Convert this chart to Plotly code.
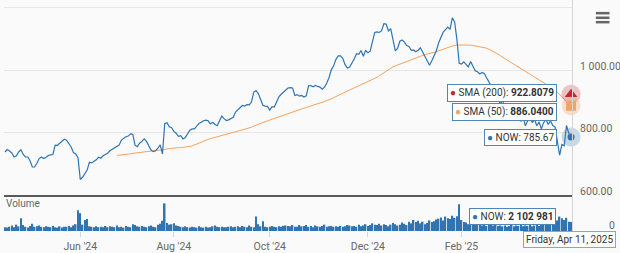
import pandas as pd
import plotly.graph_objects as go

# ---------------- data ----------------
price = [
    738, 746, 741, 735, 722, 726, 738, 745, 730, 722, 722, 710, 690, 690, 702, 717, 722, 717, 721,
    727, 729, 730, 760, 759, 766, 773, 779, 776, 764, 754, 736, 732, 720, 650, 657, 667, 680,
    705, 703, 708, 713, 721, 718, 726, 729, 734, 742, 747, 752, 756, 760, 776, 783, 787, 789,
    796, 795, 760, 755, 766, 772, 780, 772, 757, 744, 739, 742, 750, 761, 732, 829, 832, 819,
    816, 804, 798, 788, 790, 780, 784, 796, 808, 812, 812, 821, 829, 833, 838, 840, 838, 828,
    833, 826, 822, 838, 853, 845, 839, 841, 845, 849, 866, 873, 880, 887, 885, 890, 889, 898,
    930, 935, 925, 905, 888, 885, 884, 872, 883, 882, 900, 915, 923, 930, 937, 943, 944, 943,
    919, 922, 917, 919, 914, 918, 950, 951, 947, 951, 948, 946, 939, 946, 959, 977, 1002, 1014,
    1035, 1046, 1046, 1038, 1018, 1007, 1010, 1022, 1036, 1053, 1051, 1063, 1045, 1063, 1056, 1061, 1095, 1121,
    1123, 1121, 1127, 1149, 1148, 1126, 1133, 1100, 1062, 1070, 1093, 1097, 1090, 1079, 1076, 1064, 1065, 1059,
    1064, 1072, 1057, 1043, 1028, 1016, 1030, 1045, 1062, 1088, 1108, 1122, 1130, 1138, 1131, 1168, 1155, 1098, 1022, 1020, 1027,
    1017, 1011, 1028, 1010, 998, 995, 988, 993, 990, 976, 965, 950, 938, 925, 912,
    892, 903, 884, 866, 868, 858, 848, 842, 858, 836, 850, 822, 838, 852, 832, 842, 822, 834,
    812, 832, 843, 826, 838, 823, 818, 771, 728, 762, 758, 823, 798, 785.67,
]

volume_millions = [
    0.9, 0.8, 1.0, 1.3, 0.9, 1.5, 1.1, 3.0, 1.4, 1.0, 0.8, 1.2, 1.7, 1.0, 1.1, 1.3, 1.0, 0.9, 1.1,
    1.0, 0.9, 1.2, 0.9, 0.8, 1.1, 0.8, 1.0, 1.0, 1.2, 0.9, 1.3, 1.6, 4.9, 4.2, 1.5, 2.6, 2.8,
    1.1, 1.0, 0.9, 1.1, 0.9, 1.0, 0.9, 1.2, 0.9, 1.1, 1.0, 0.9, 1.3, 0.9, 1.0, 0.8, 1.2, 1.0,
    0.9, 1.6, 1.4, 1.1, 1.0, 1.2, 1.0, 0.9, 1.1, 1.3, 1.0, 0.9, 1.5, 1.7, 2.4, 6.5, 1.9, 1.5,
    1.6, 1.8, 1.3, 1.2, 1.0, 0.9, 1.1, 0.9, 0.8, 1.0, 0.9, 0.8, 1.1, 0.9, 0.8, 1.0, 0.8, 0.9,
    1.1, 1.3, 1.0, 0.9, 1.0, 0.9, 0.9, 1.0, 1.1, 0.9, 1.0, 1.1, 0.9, 1.2, 1.0, 0.9, 1.3, 1.0,
    0.9, 3.4, 1.6, 1.1, 2.3, 1.0, 0.9, 1.0, 1.2, 1.0, 0.9, 1.1, 1.0, 1.2, 1.3, 1.2, 1.1, 1.4,
    1.0, 1.0, 1.4, 1.1, 1.2, 1.4, 1.0, 1.2, 0.9, 1.3, 1.1, 1.0, 1.2, 1.5, 1.0, 1.1, 1.2, 1.0,
    1.1, 1.0, 1.2, 1.0, 1.1, 1.4, 1.3, 1.1, 1.2, 1.0, 1.5, 1.1, 1.3, 1.6, 1.2, 1.4, 1.8, 1.5,
    1.4, 1.7, 1.3, 1.6, 1.4, 1.1, 1.5, 1.9, 1.6, 1.3, 1.5, 2.0, 1.7, 1.4, 2.2, 1.8, 2.6, 2.1,
    2.4, 1.8, 2.2, 1.6, 1.9, 2.5, 2.1, 2.3, 2.7, 2.9, 3.2, 2.5, 3.4, 3.0, 2.8, 3.6, 3.1, 3.5, 6.3, 2.6, 2.1,
    2.0, 1.6, 1.9, 1.5, 1.7, 1.4, 1.6, 1.3, 1.5, 1.2, 1.4, 1.6, 1.3, 1.5, 1.2,
    1.3, 1.1, 1.3, 1.0, 1.2, 1.4, 1.1, 1.3, 1.2, 1.5, 1.1, 1.3, 1.2, 1.4, 1.1, 1.3, 1.5, 1.2,
    1.4, 1.7, 1.9, 1.6, 2.0, 2.3, 1.8, 2.5, 3.4, 3.0, 2.6, 3.1, 2.2, 2.102981,
]

market_holidays = ["2024-05-27", "2024-06-19", "2024-07-04", "2024-09-02", "2024-11-28",
                   "2024-12-25", "2025-01-01", "2025-01-09", "2025-01-20", "2025-02-17"]

tick_dates = ["2024-06-03", "2024-08-01", "2024-10-01", "2024-12-02", "2025-02-03"]
tick_labels = ["Jun '24", "Aug '24", "Oct '24", "Dec '24", "Feb '25"]

price_ticks = [600, 800, 1000, 1200]
price_tick_labels = ["600.00", "800.00", "1 000.00", ""]

sma200_now = 922.8079
sma50_now = 886.0400
price_now = 785.67
volume_now = 2102981
date_label = "Friday, Apr 11, 2025"

# ---------------- derived ----------------
days = pd.bdate_range("2024-01-02", "2025-04-11")
days = days[~days.isin(pd.to_datetime(market_holidays))]
dates = days[-len(price):]
vdates = days[-len(volume_millions):]
volume = [v * 1e6 for v in volume_millions]
sma50 = pd.Series(price).rolling(50).mean()
last = dates[-1]

BLUE = "#2f74b3"
ORANGE = "#f4a261"
RED = "#c0282d"
FONT = "Roboto"

fig = go.Figure()

fig.add_trace(go.Scatter(x=dates, y=sma50, mode="lines", line=dict(color=ORANGE, width=1),
                         yaxis="y", hoverinfo="skip"))
fig.add_trace(go.Scatter(x=dates, y=price, mode="lines", line=dict(color=BLUE, width=1.2),
                         yaxis="y", hoverinfo="skip"))
fig.add_trace(go.Bar(x=vdates, y=volume, marker=dict(color=BLUE, line=dict(width=0)),
                     yaxis="y2", hoverinfo="skip"))

# hover-state markers at the last point
for val, sym, col, halo, size in [
    (sma200_now, "triangle-up", RED, "rgba(192,40,45,0.25)", 11),
    (sma50_now, "square", ORANGE, "rgba(244,162,97,0.3)", 10),
    (price_now, "circle", BLUE, "rgba(47,116,179,0.25)", 7),
]:
    fig.add_trace(go.Scatter(x=[last], y=[val], mode="markers", yaxis="y", cliponaxis=False,
                             marker=dict(size=19, color=halo), hoverinfo="skip"))
    fig.add_trace(go.Scatter(x=[last], y=[val], mode="markers", yaxis="y", cliponaxis=False,
                             marker=dict(size=size, symbol=sym, color=col), hoverinfo="skip"))

box = dict(bgcolor="rgba(255,255,255,0.96)", bordercolor="#4f86b6", borderwidth=1, borderpad=2,
           font=dict(family=FONT, size=10, color="#333"), showarrow=False,
           xanchor="right", yanchor="middle")

annotations = [
    dict(x=last, y=sma200_now, xref="x", yref="y", xshift=-14, yshift=1,
         text=f"<span style='color:{RED}'>●</span> SMA (200): <b>{sma200_now:.4f}</b>", **box),
    dict(x=last, y=sma50_now, xref="x", yref="y", xshift=-14, yshift=-6,
         text=f"<span style='color:{ORANGE}'>●</span> SMA (50): <b>{sma50_now:.4f}</b>", **box),
    dict(x=last, y=price_now, xref="x", yref="y", xshift=-14, yshift=0,
         text=f"<span style='color:{BLUE}'>●</span> NOW: {price_now:.2f}", **box),
    dict(x=last, y=volume_now, xref="x", yref="y2", xshift=-15, yshift=6,
         text=f"<span style='color:{BLUE}'>●</span> NOW: <b>{volume_now:,}</b>".replace(",", " "), **box),
    dict(x=last, y=0, xref="x", yref="paper", yshift=0, xshift=-2,
         text=date_label, bgcolor="rgba(255,255,255,0.96)", bordercolor="#8aa6c0", borderwidth=1,
         borderpad=2, font=dict(family=FONT, size=10, color="#333"), showarrow=False,
         xanchor="center", yanchor="top"),
    dict(x=0, y=0.117, xref="paper", yref="paper", text="Volume", showarrow=False,
         xanchor="left", yanchor="middle", font=dict(family=FONT, size=10, color="#666")),
]

shapes = [
    dict(type="line", xref="paper", yref="y domain", x0=0, x1=1, y0=0, y1=0,
         line=dict(color="#5a5a5a", width=2)),
]
for yy in (0.943, 0.923, 0.904):
    shapes.append(dict(type="line", xref="paper", yref="paper", x0=1.042, x1=1.066, y0=yy, y1=yy,
                       line=dict(color="#666", width=2.5)))

fig.update_layout(
    width=620, height=253,
    margin=dict(l=4, r=48, t=0, b=22),
    paper_bgcolor="#fafafa", plot_bgcolor="#fafafa",
    showlegend=False, bargap=0.35,
    font=dict(family=FONT, size=10.5, color="#666"),
    xaxis=dict(type="date", anchor="y2",
               rangebreaks=[dict(bounds=["sat", "mon"]), dict(values=market_holidays)],
               range=["2024-04-15 14:00", "2025-04-11 10:00"],
               showgrid=False, zeroline=False, showline=False,
               ticks="outside", ticklen=5, tickcolor="#ccd6eb",
               tickvals=tick_dates, ticktext=tick_labels,
               tickfont=dict(family=FONT, size=10.5, color="#666")),
    yaxis=dict(domain=[0.1515, 1], anchor="x", side="right", range=[597, 1225],
               tickvals=price_ticks, ticktext=price_tick_labels,
               showgrid=True, gridcolor="#e6e6e6", zeroline=False,
               showline=True, linecolor="#d6d6d6", linewidth=1,
               ticks="", ticklabelstandoff=5, ticklabelshift=-4,
               tickfont=dict(family=FONT, size=10.5, color="#666")),
    yaxis2=dict(domain=[0, 0.147], anchor="x", side="right", range=[0, 8e6],
                tickvals=[0], ticktext=["0"], showgrid=False, zeroline=False,
                showline=True, linecolor="#d6d6d6", linewidth=1,
                ticks="", ticklabelstandoff=34, ticklabelshift=-6,
                tickfont=dict(family=FONT, size=10.5, color="#666")),
    annotations=annotations,
    shapes=shapes,
)

fig.write_html("out.html")
